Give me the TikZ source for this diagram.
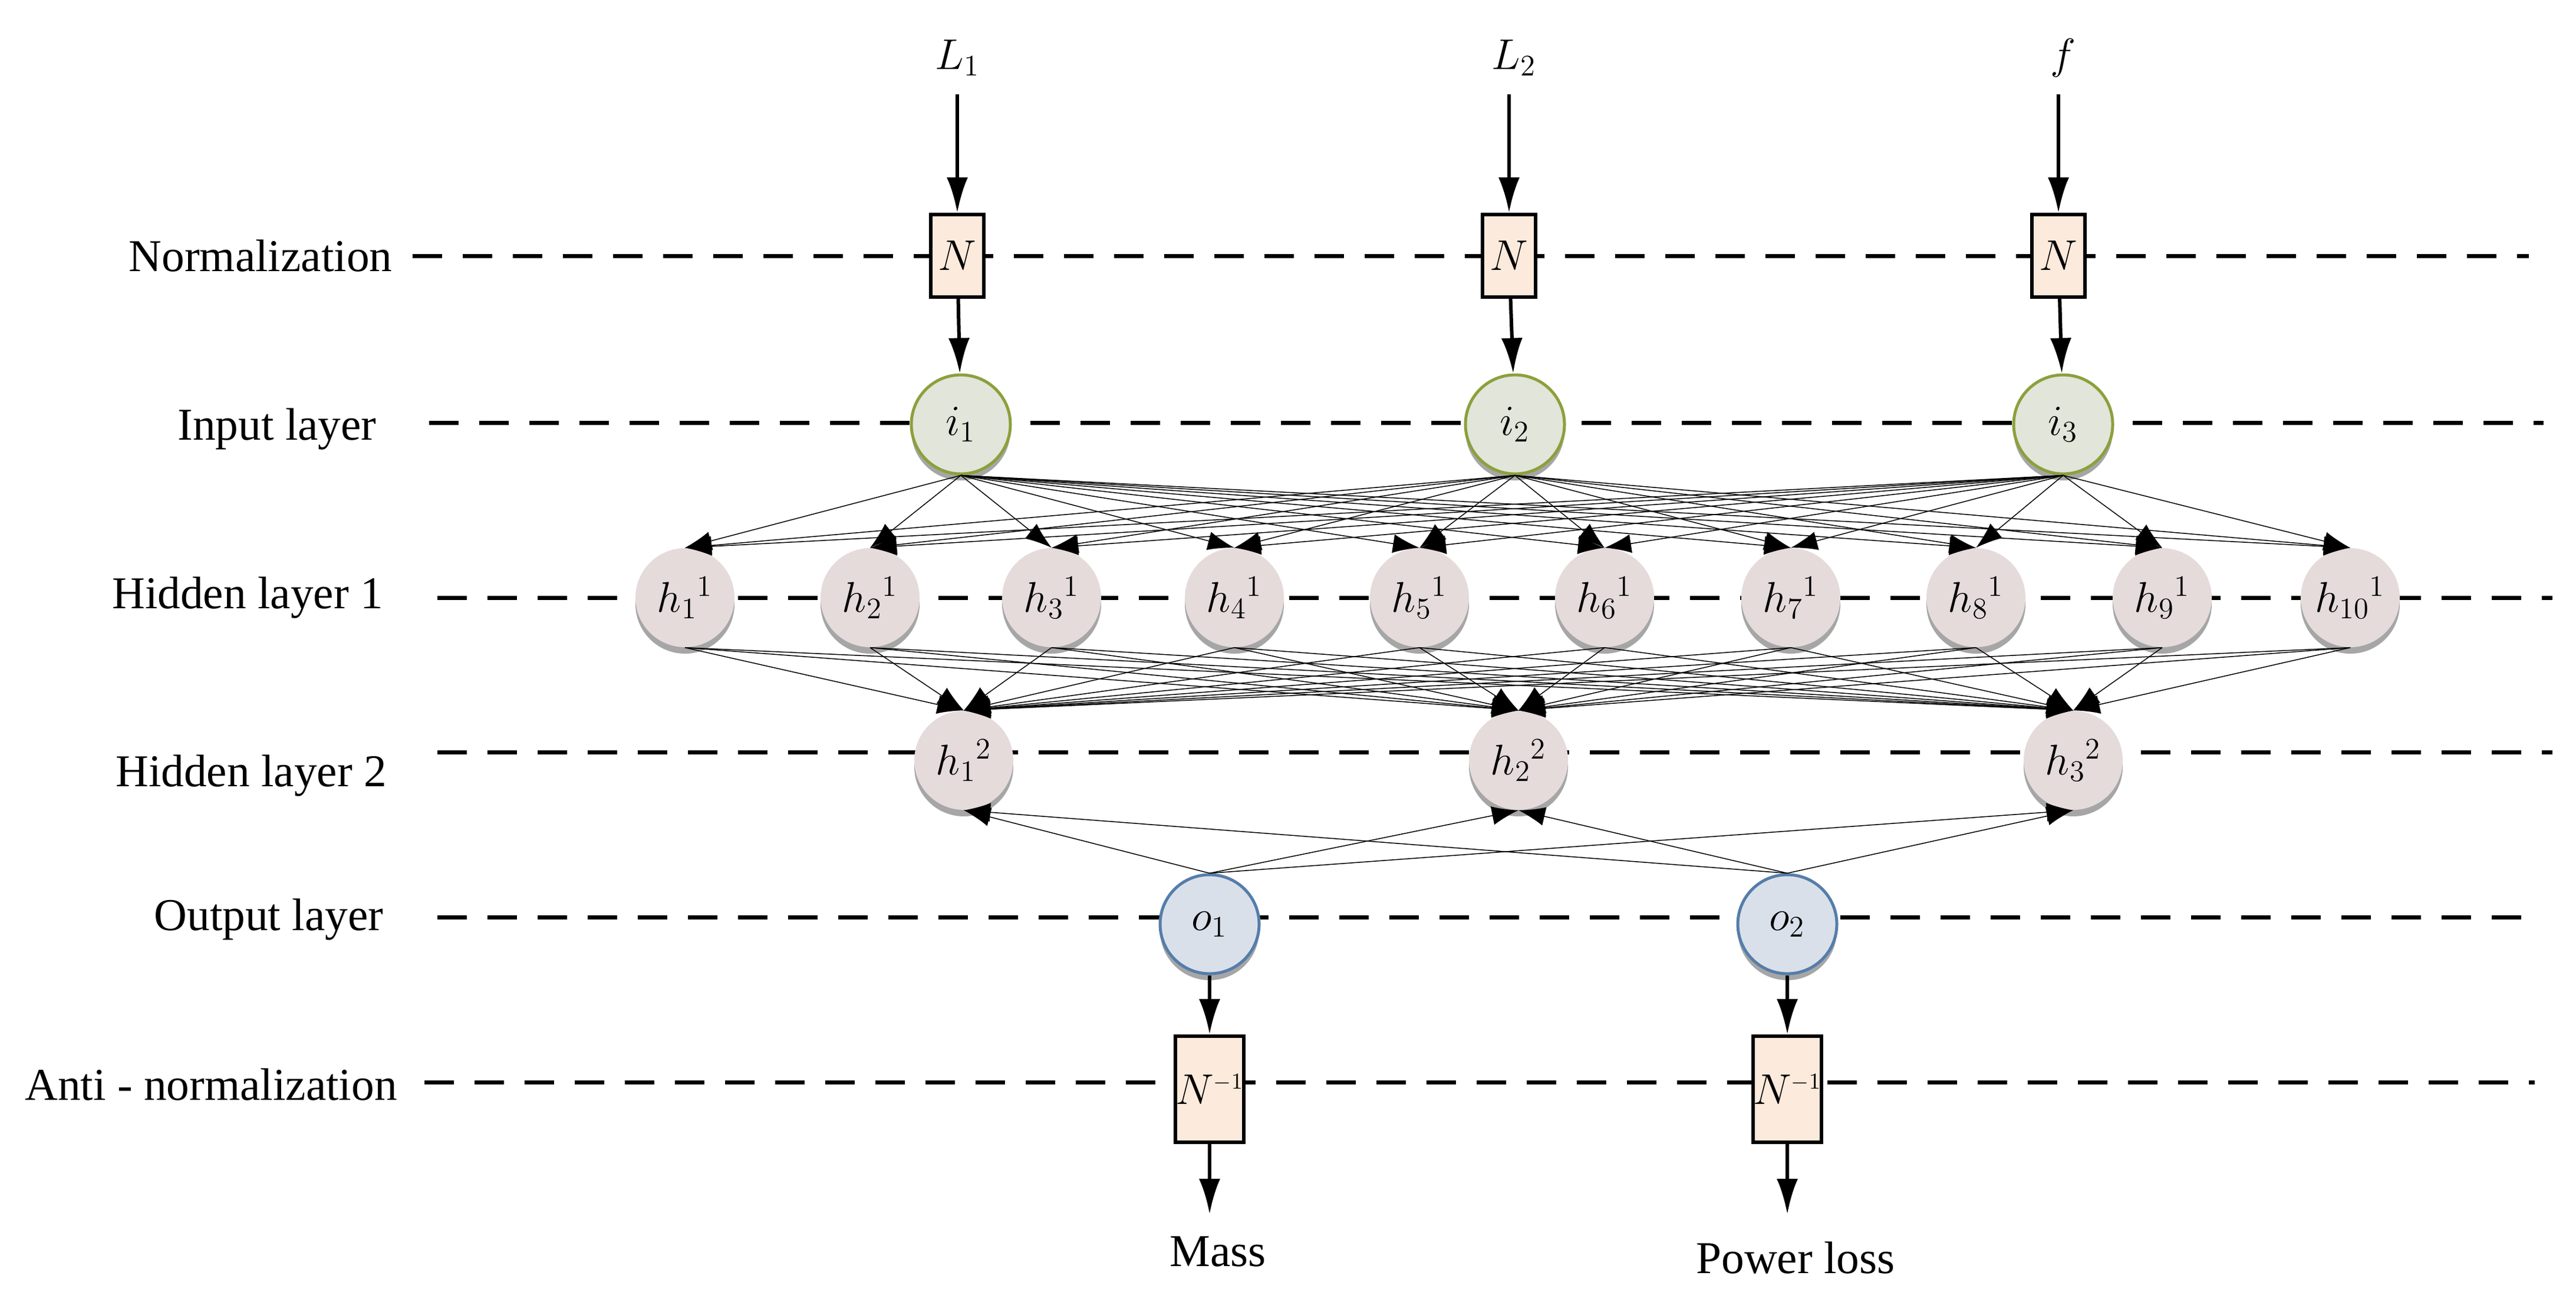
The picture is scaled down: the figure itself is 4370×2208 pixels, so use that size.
\documentclass[tikz,border=0pt]{standalone}
\usepackage{fontspec}
\setmainfont{Liberation Serif}
\usetikzlibrary{arrows.meta,shadows}
\definecolor{hidf}{RGB}{229,219,219}
\definecolor{inf}{RGB}{225,229,218}
\definecolor{ind}{RGB}{140,160,60}
\definecolor{outf}{RGB}{218,224,233}
\definecolor{outd}{RGB}{85,125,170}
\definecolor{boxf}{RGB}{252,234,220}
\begin{document}
\begin{tikzpicture}[x=0.1mm,y=-0.1mm,
  lbl/.style={font=\fontsize{22}{26}\selectfont},
  dline/.style={line width=0.7mm,dash pattern=on 5mm off 3.5mm},
  nbox/.style={draw,line width=0.6mm,fill=boxf,minimum width=9mm,minimum height=14mm,inner sep=0pt,font=\fontsize{22}{26}\selectfont},
  neu/.style={circle,minimum size=16.8mm,inner sep=0pt,font=\fontsize{22}{26}\selectfont,
     drop shadow={shadow xshift=0mm,shadow yshift=-1.1mm,fill=gray!70,opacity=1}},
  inn/.style={neu,draw=ind,line width=0.5mm,fill=inf},
  hid/.style={neu,fill=hidf},
  outn/.style={neu,draw=outd,line width=0.5mm,fill=outf},
  big/.style={line width=0.6mm,-{Latex[length=6mm,width=3.6mm]}},
  tarr/.style={line width=0.15mm,-{Latex[length=4.5mm,width=3.2mm]}}]
\useasboundingbox (0,0) rectangle (4370,2208);
% labels
\node[lbl] (lN) at (442,434) {Normalization};
\node[lbl] (lI) at (470,728) {Input layer};
\node[lbl] (lH1) at (420,1014) {Hidden layer 1};
\node[lbl] (lH2) at (426,1316) {Hidden layer 2};
\node[lbl] (lO) at (456,1560) {Output layer};
\node[lbl] (lA) at (358,1840) {Anti - normalization};
% dashed lines
\draw[dline] (700,434) -- (4290,434);
\draw[dline] (728,717) -- (4315,717);
\draw[dline] (742,1014) -- (4330,1014);
\draw[dline] (742,1276) -- (4330,1276);
\draw[dline] (742,1556) -- (4290,1556);
\draw[dline] (720,1836) -- (4300,1836);
% inputs
\node[lbl] (L1) at (1624,98) {$L_1$};
\node[lbl] (L2) at (2568,98) {$L_2$};
\node[lbl] (Lf) at (3500,98) {$f$};
\node[nbox] (N1) at (1624,434) {$N$};
\node[nbox] (N2) at (2560,434) {$N$};
\node[nbox] (N3) at (3492,434) {$N$};
\draw[big] (1624,160) -- (N1.north);
\draw[big] (2560,160) -- (N2.north);
\draw[big] (3492,160) -- (N3.north);
\node[inn] (i1) at (1630,720) {$i_1$};
\node[inn] (i2) at (2570,720) {$i_2$};
\node[inn] (i3) at (3500,720) {$i_3$};
\draw[big] (N1) -- (i1);
\draw[big] (N2) -- (i2);
\draw[big] (N3) -- (i3);
% hidden 1
\foreach \k/\x in {1/1162,2/1476,3/1784,4/2094,5/2408,6/2722,7/3038,8/3352,9/3668,10/3987}{
  \node[hid] (h\k) at (\x,1014) {$h_{\k}{}^{1}$};
}
\foreach \a/\x in {1/1635,2/2576,3/3517}{
  \node[hid] (g\a) at (\x,1290) {$h_{\a}{}^{2}$};
}
\node[outn] (o1) at (2052,1568) {$o_1$};
\node[outn] (o2) at (3032,1568) {$o_2$};
\foreach \i in {1,2,3}{\foreach \k in {1,...,10}{\draw[tarr] (i\i.south) -- (h\k.north);}}
\foreach \k in {1,...,10}{\foreach \a in {1,2,3}{\draw[tarr] (h\k.south) -- (g\a.north);}}
\foreach \o in {1,2}{\foreach \a in {1,2,3}{\draw[tarr] (o\o.north) -- (g\a.south);}}
% outputs
\node[nbox,minimum height=18mm,minimum width=10mm] (M1) at (2052,1848) {$N^{\scriptscriptstyle -1}$};
\node[nbox,minimum height=18mm,minimum width=10mm] (M2) at (3032,1848) {$N^{\scriptscriptstyle -1}$};
\draw[big] (o1) -- (M1);
\draw[big] (o2) -- (M2);
\node[lbl] (mass) at (2066,2124) {Mass};
\node[lbl] (pl) at (3046,2134) {Power loss};
\draw[big] (M1) -- (2052,2060);
\draw[big] (M2) -- (3032,2060);
\end{tikzpicture}
\end{document}
